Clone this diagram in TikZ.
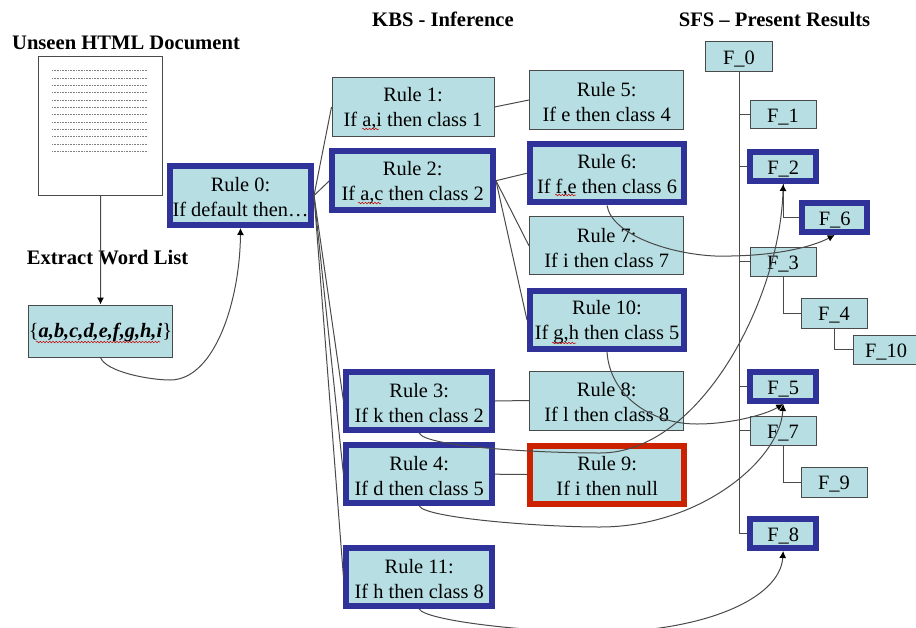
\documentclass[tikz,border=0pt]{standalone}
\usepackage{fontspec}
\setmainfont{Liberation Serif}
\usetikzlibrary{arrows.meta,decorations.pathmorphing}
\definecolor{boxfill}{HTML}{B7DEE3}
\definecolor{boxblue}{HTML}{2E3299}
\definecolor{boxred}{HTML}{CC2200}
\definecolor{linecol}{HTML}{4A4A4A}
\newcommand\rl{\rule{0pt}{18pt}}
\tikzset{
  plainbox/.style={draw=linecol,fill=boxfill,line width=1pt,inner sep=0pt,align=center,
    font=\fontsize{20.4}{25}\selectfont,text=black},
  bluebox/.style={plainbox,draw=boxblue,line width=6pt},
  redbox/.style={plainbox,draw=boxred,line width=6pt},
  title/.style={inner sep=0pt,font=\fontsize{20.6}{25}\selectfont\bfseries},
  link/.style={draw=linecol,line width=1pt},
  curved/.style={draw=linecol,line width=1pt},
  tip/.style={curved,-{Latex[length=7pt,width=7pt,black]}},
  spell/.style={draw=red!75!black,line width=.5pt,decorate,decoration={snake,amplitude=.8pt,segment length=3.2pt}},
  dots/.style={draw=gray,line width=.6pt,dash pattern=on .8pt off .8pt},
}
\begin{document}
\begin{tikzpicture}[x=1pt,y=-1pt]
\useasboundingbox (0,0) rectangle (916,627);
\node[title] (t1) at (126,42.5) {Unseen HTML Document};
\node[title] (t2) at (107.5,258) {Extract Word List};
\node[title] (t3) at (443,19) {KBS - Inference};
\node[title] (t4) at (774.5,19) {SFS – Present Results};

\node[draw=linecol,fill=white,line width=1pt,minimum width=124.5pt,minimum height=139pt,inner sep=0pt] (doc) at (100.7,125.5) {};
\foreach \yy in {70.5,78.5,85.5,92.5,100,107.5,114.5,122.5,129.5,136.5,144.5,151.5}
  \draw[dots] (52,\yy) -- (148,\yy);
\node[plainbox,minimum width=141pt,minimum height=52pt] (word) at (100.5,331)
  {\rl\{\textbf{\textit{a,b,c,d,e,f,g,h,i}}\}};

\node[bluebox,minimum width=141pt,minimum height=59pt] (r0) at (240.5,195.5) {\rl Rule 0:\\If default then…};
\node[plainbox,minimum width=162pt,minimum height=59pt] (r1) at (413,107) {\rl Rule 1:\\If a,i then class 1};
\node[bluebox,minimum width=160.5pt,minimum height=58.5pt] (r2) at (412.7,180.7) {\rl Rule 2:\\If a,c then class 2};
\node[plainbox,minimum width=154.5pt,minimum height=59pt] (r5) at (606.7,100) {\rl Rule 5:\\If e then class 4};
\node[bluebox,minimum width=154pt,minimum height=58.5pt] (r6) at (607,173.2) {\rl Rule 6:\\If f,e then class 6};
\node[plainbox,minimum width=154.5pt,minimum height=58.5pt] (r7) at (606.7,245.7) {\rl Rule 7:\\If i then class 7};
\node[bluebox,minimum width=154pt,minimum height=58pt] (r10) at (607,320) {\rl Rule 10:\\If g,h then class 5};
\node[bluebox,minimum width=145.5pt,minimum height=58pt] (r3) at (419.2,401) {\rl Rule 3:\\If k then class 2};
\node[plainbox,minimum width=154.5pt,minimum height=59pt] (r8) at (606.7,400.5) {\rl Rule 8:\\If l then class 8};
\node[bluebox,minimum width=145.5pt,minimum height=57.5pt] (r4) at (419.2,474.2) {\rl Rule 4:\\If d then class 5};
\node[redbox,minimum width=153.5pt,minimum height=58pt] (r9) at (607.2,474.5) {\rl Rule 9:\\If i then null};
\node[bluebox,minimum width=145.5pt,minimum height=58pt] (r11) at (419.2,577) {\rl Rule 11:\\If h then class 8};

\node[plainbox,minimum width=67pt,minimum height=30pt] (f0) at (739,56.5) {\rl F\_0};
\node[plainbox,minimum width=66pt,minimum height=28.5pt] (f1) at (783,114.7) {\rl F\_1};
\node[bluebox,minimum width=65.5pt,minimum height=29pt] (f2) at (783.2,166.5) {\rl F\_2};
\node[bluebox,minimum width=65.5pt,minimum height=29pt] (f6) at (834.7,217.5) {\rl F\_6};
\node[plainbox,minimum width=66pt,minimum height=29pt] (f3) at (783,261.5) {\rl F\_3};
\node[plainbox,minimum width=66pt,minimum height=30pt] (f4) at (834,313) {\rl F\_4};
\node[plainbox,minimum width=66pt,minimum height=29pt] (f10) at (886,349.5) {\rl F\_10};
\node[bluebox,minimum width=65.5pt,minimum height=29pt] (f5) at (783.2,386.5) {\rl F\_5};
\node[plainbox,minimum width=66pt,minimum height=29pt] (f7) at (783,430.5) {\rl F\_7};
\node[plainbox,minimum width=66pt,minimum height=30pt] (f9) at (834,482) {\rl F\_9};
\node[bluebox,minimum width=65.5pt,minimum height=29pt] (f8) at (783.2,533.5) {\rl F\_8};

% spell-check underlines
\draw[spell] (362,129) -- (379,129);
\draw[spell] (358,203) -- (381,203);
\draw[spell] (555,195) -- (576,195);
\draw[spell] (552,343) -- (576,343);
\draw[spell] (36,342) -- (160,342);

% straight rule links
\foreach \a/\b in {r0/r1,r0/r2,r0/r3,r0/r4,r0/r11,r1/r5,r2/r6,r2/r7,r2/r10,r3/r8,r4/r9}
  \draw[link] (\a.east) -- (\b.west);
% tree links
\foreach \b in {f1,f2,f3,f5,f7,f8}
  \draw[link] (f0.south) |- (\b.west);
\draw[link] (f2.south) |- (f6.west);
\draw[link] (f3.south) |- (f4.west);
\draw[link] (f4.south) |- (f10.west);
\draw[link] (f7.south) |- (f9.west);

% arrows
\draw[tip] (doc.south) -- (word.north);
\draw[tip] (word.south) .. controls (106,372) and (150,380) .. (170,380) .. controls (215,380) and (240,300) .. (r0.south);
\draw[tip] (r6.south) .. controls (612,235) and (670,254) .. (715,256) .. controls (770,257) and (810,248) .. (f6.south);
\draw[tip] (r10.south) .. controls (610,395) and (650,424) .. (697,424) .. controls (730,424) and (765,415) .. (f5.south);
\draw[tip] (r3.south) .. controls (425,447) and (540,453) .. (600,453) .. controls (700,453) and (780,300) .. (f2.south);
\draw[tip] (r4.south) .. controls (425,518) and (540,527) .. (600,527) .. controls (700,527) and (780,460) .. (f5.south);
\draw[tip] (r11.south) .. controls (425,620) and (520,632) .. (600,632) .. controls (700,632) and (780,600) .. (f8.south);
\end{tikzpicture}
\end{document}
